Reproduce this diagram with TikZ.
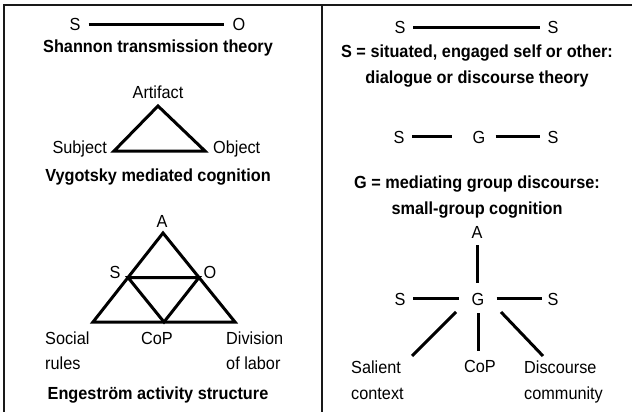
\documentclass[tikz,border=0pt]{standalone}
\usepackage{fontspec}
\setmainfont[FakeStretch=0.93]{Liberation Sans}
\usetikzlibrary{calc}
\begin{document}
\begin{tikzpicture}[x=1pt,y=-1pt,
  lbl/.style={inner sep=0pt, anchor=base, font=\fontsize{17.5}{25.5}\selectfont},
  ttl/.style={inner sep=0pt, anchor=base, align=center, font=\bfseries\fontsize{17.5}{26}\selectfont},
  two/.style={inner sep=0pt, anchor=base west, align=left, font=\fontsize{17.5}{25.5}\selectfont},
  conn/.style={line width=3pt},
  tri/.style={line width=3pt, line join=miter},
  frame/.style={line width=2pt, color=black!90}]
\useasboundingbox (0,0) rectangle (632,412);
% frame
\draw[frame] (4,412) -- (4,5) -- (632,5);
\draw[frame] (322,5) -- (322,412);

% ---------- left panel ----------
\node[lbl, inner xsep=8pt] (s1) at (75,31) {S};
\node[lbl, inner xsep=8pt] (o1) at (239,31) {O};
\draw[conn] (s1.east) -- (s1.east -| o1.west);
\node[ttl] (t1) at (158,53) {Shannon transmission theory};

\node[lbl] (art) at (158,99) {Artifact};
\coordinate (va) at (158,106);
\coordinate (vs) at (114,151);
\coordinate (vo) at (205,151);
\draw[tri] (va) -- (vs) -- (vo) -- cycle;
\node[lbl, anchor=base east] (subj) at (107,153) {Subject};
\node[lbl, anchor=base west] (obj) at (213,153) {Object};
\node[ttl] (t2) at (158,181) {Vygotsky mediated cognition};

\node[lbl] (ea) at (162,227) {A};
\coordinate (ta) at (163,233);
\coordinate (tl) at (93,322);
\coordinate (tr) at (235,322);
\draw[tri] (ta) -- (tl) -- (tr) -- cycle;
\coordinate (ml) at ($(ta)!0.5!(tl)$);
\coordinate (mr) at ($(ta)!0.5!(tr)$);
\coordinate (mb) at ($(tl)!0.5!(tr)$);
\draw[tri] (ml) -- (mr) -- (mb) -- cycle;
\node[lbl] (es) at (115,278) {S};
\node[lbl] (eo) at (210,278) {O};
\node[two] (soc) at (45,369.5) {Social\\rules};
\node[lbl] (cop1) at (157,344) {CoP};
\node[two] (div) at (226,369.5) {Division\\of labor};
\node[ttl] (t3) at (158,399) {Engestr\"om activity structure};

% ---------- right panel ----------
\node[lbl, inner xsep=7.5pt] (s2) at (400,34) {S};
\node[lbl, inner xsep=7.5pt] (s2b) at (553,34) {S};
\draw[conn] (s2.east) -- (s2.east -| s2b.west);
\node[ttl] (t4) at (477,84) {S = situated, engaged self or other:\\dialogue or discourse theory};

\node[lbl, inner xsep=7.5pt] (s3) at (399,143) {S};
\node[lbl, inner xsep=10pt] (g2) at (479,143) {G};
\node[lbl, inner xsep=7.5pt] (s3b) at (553,143) {S};
\draw[conn, shorten >=10.5pt] (s3.east) -- (s3.east -| g2.west);
\draw[conn] (g2.east) -- (g2.east -| s3b.west);
\node[ttl] (t5) at (477,214) {G = mediating group discourse:\\small-group cognition};

\node[lbl] (a4) at (477,238) {A};
\node[lbl, inner xsep=7.5pt] (s4) at (400,305) {S};
\node[lbl, inner xsep=12pt] (g3) at (478,305) {G};
\node[lbl, inner xsep=5pt] (s4b) at (553,305) {S};
\draw[conn, shorten <=7pt, shorten >=10pt] (a4.south) -- (a4.south |- g3.north);
\draw[conn] (s4.east) -- (s4.east -| g3.west);
\draw[conn] (g3.east) -- (g3.east -| s4b.west);
\node[two] (sal) at (351,399) {Salient\\context};
\node[lbl] (cop2) at (480,372) {CoP};
\node[two] (dis) at (524,399) {Discourse\\community};
\coordinate (gl) at (456,312);
\coordinate (gr) at (501,312);
\coordinate (el) at (412,356);
\coordinate (er) at (543,356);
\draw[conn] (gl) -- (el);
\draw[conn] (gr) -- (er);
\draw[conn, shorten <=8pt, shorten >=9pt] (g3.south) -- (g3.south |- cop2.north);
\end{tikzpicture}
\end{document}
